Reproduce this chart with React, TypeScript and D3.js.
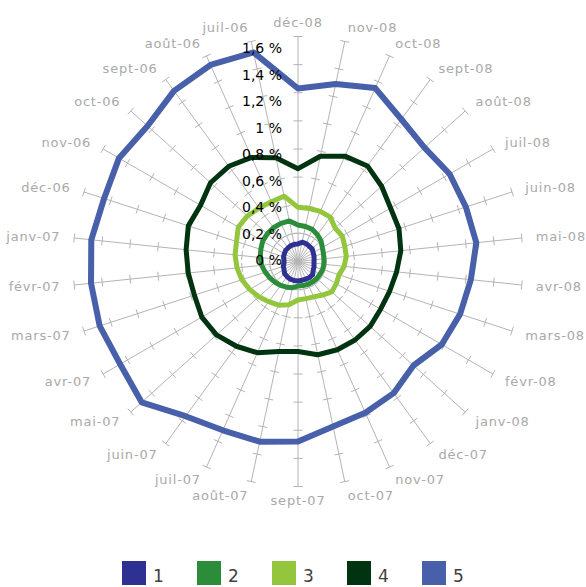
import React, { useRef, useEffect } from 'react';
import * as d3 from 'd3';

// categories in drawing order (clockwise from the top)
const categories = [
    'déc-08', 'nov-08', 'oct-08', 'sept-08', 'août-08', 'juil-08', 'juin-08', 'mai-08',
    'avr-08', 'mars-08', 'févr-08', 'janv-08', 'déc-07', 'nov-07', 'oct-07', 'sept-07',
    'août-07', 'juil-07', 'juin-07', 'mai-07', 'avr-07', 'mars-07', 'févr-07', 'janv-07',
    'déc-06', 'nov-06', 'oct-06', 'sept-06', 'août-06', 'juil-06'
];

const series1 = [0.125, 0.14, 0.14, 0.135, 0.135, 0.125, 0.12, 0.115, 0.114, 0.12, 0.125, 0.14, 0.14, 0.137, 0.136,
    0.139, 0.138, 0.138, 0.132, 0.128, 0.115, 0.11, 0.1, 0.1, 0.108, 0.112, 0.118, 0.12, 0.124, 0.125];
const series2 = [0.26, 0.255, 0.25, 0.235, 0.22, 0.2, 0.19, 0.185, 0.185, 0.184, 0.18, 0.18, 0.178, 0.177, 0.175,
    0.175, 0.19, 0.2, 0.21, 0.22, 0.232, 0.245, 0.26, 0.27, 0.278, 0.29, 0.294, 0.297, 0.297, 0.295];
const series3 = [0.385, 0.385, 0.39, 0.39, 0.355, 0.363, 0.35, 0.345, 0.33, 0.307, 0.315, 0.323, 0.295, 0.275, 0.27,
    0.274, 0.315, 0.34, 0.353, 0.375, 0.397, 0.42, 0.436, 0.45, 0.46, 0.49, 0.484, 0.47, 0.465, 0.475];
const series4 = [0.66, 0.765, 0.82, 0.84, 0.8, 0.76, 0.755, 0.735, 0.705, 0.685, 0.678, 0.69, 0.69, 0.687, 0.678,
    0.64, 0.655, 0.71, 0.745, 0.78, 0.79, 0.775, 0.785, 0.8, 0.82, 0.8, 0.837, 0.837, 0.81, 0.754];
const series5 = [1.23, 1.29, 1.35, 1.25, 1.21, 1.245, 1.255, 1.275, 1.236, 1.212, 1.18, 1.105, 1.157, 1.177, 1.2,
    1.28, 1.31, 1.314, 1.36, 1.496, 1.46, 1.483, 1.48, 1.478, 1.45, 1.47, 1.44, 1.5, 1.53, 1.52];

const seriesNames = ['1', '2', '3', '4', '5'];
const seriesColors = ['#2e3192', '#2b8c3a', '#93c63d', '#003310', '#485faa'];
const seriesWidths = [5, 5, 5, 5, 6];
const tickValues = [0, 0.2, 0.4, 0.6, 0.8, 1, 1.2, 1.4, 1.6];
const tickLabels = ['0 %', '0,2 %', '0,4 %', '0,6 %', '0,8 %', '1 %', '1,2 %', '1,4 %', '1,6 %'];

const App: React.FC = () => {
    const svgRef = useRef<SVGSVGElement | null>(null);

    useEffect(() => {
        const width = 586;
        const height = 587;
        const cx = 298;
        const cy = 261.5;
        const R = 225;
        const allSeries = [series1, series2, series3, series4, series5];

        const svg = d3.select(svgRef.current);
        svg.selectAll('*').remove();
        svg.attr('width', width).attr('height', height);

        const r = d3.scaleLinear().domain([0, 1.6]).range([0, R]);
        const angle = d3.scaleLinear().domain([0, categories.length]).range([0, 2 * Math.PI]);
        // value labels sit a little tighter than the ticks, as in the original
        const labelY = d3.scaleLinear().domain([0, 1.6]).range([cy - 1.5, cy - 213.5]);

        const g = svg.append('g').attr('transform', `translate(${cx},${cy})`);

        // spokes with tick marks
        const axisColor = '#b4b4b4';
        categories.forEach((c, i) => {
            const a = angle(i);
            const sx = Math.sin(a);
            const sy = -Math.cos(a);
            g.append('line')
                .attr('x1', 0).attr('y1', 0)
                .attr('x2', r(1.6) * sx).attr('y2', r(1.6) * sy)
                .attr('stroke', axisColor)
                .attr('stroke-width', 1);
            tickValues.slice(1).forEach(v => {
                const px = r(v) * sx;
                const py = r(v) * sy;
                g.append('line')
                    .attr('x1', px - 4.5 * sy).attr('y1', py + 4.5 * sx)
                    .attr('x2', px + 4.5 * sy).attr('y2', py - 4.5 * sx)
                    .attr('stroke', axisColor)
                    .attr('stroke-width', 1);
            });

            const lr = r(1.6) + 14;
            g.append('text')
                .attr('x', lr * sx)
                .attr('y', lr * sy)
                .attr('text-anchor', Math.abs(sx) < 0.05 ? 'middle' : sx > 0 ? 'start' : 'end')
                .attr('dominant-baseline', 'central')
                .attr('font-family', 'DejaVu Sans, sans-serif')
                .attr('font-size', 13)
                .attr('letter-spacing', 0.8)
                .attr('fill', '#a9a9a9')
                .text(c);
        });

        // series
        const radial = d3.lineRadial<number>()
            .angle((d, i) => angle(i))
            .radius(d => r(d))
            .curve(d3.curveLinearClosed);

        allSeries.forEach((s, k) => {
            g.append('path')
                .attr('d', radial(s))
                .attr('fill', 'none')
                .attr('stroke', seriesColors[k])
                .attr('stroke-width', seriesWidths[k])
                .attr('stroke-linejoin', 'round');
        });

        // value axis labels
        tickValues.forEach((v, i) => {
            svg.append('text')
                .attr('x', 282)
                .attr('y', labelY(v))
                .attr('text-anchor', 'end')
                .attr('dominant-baseline', 'central')
                .attr('font-family', 'DejaVu Sans, sans-serif')
                .attr('font-size', 14)
                .attr('fill', '#000')
                .text(tickLabels[i]);
        });

        // legend
        const legendX = d3.scalePoint<string>().domain(seriesNames).range([122, 422]);
        const legend = svg.append('g');
        seriesNames.forEach((name, k) => {
            const x = legendX(name) as number;
            legend.append('rect')
                .attr('x', x).attr('y', 561)
                .attr('width', 24).attr('height', 24)
                .attr('fill', seriesColors[k]);
            legend.append('text')
                .attr('x', x + 31)
                .attr('y', 576)
                .attr('dominant-baseline', 'central')
                .attr('font-family', 'DejaVu Sans, sans-serif')
                .attr('font-size', 17)
                .attr('fill', '#404040')
                .text(name);
        });
    }, []);

    return (
        <svg ref={svgRef} style={{ position: 'absolute', left: 0, top: 0, display: 'block' }}></svg>
    );
};

export default App;
